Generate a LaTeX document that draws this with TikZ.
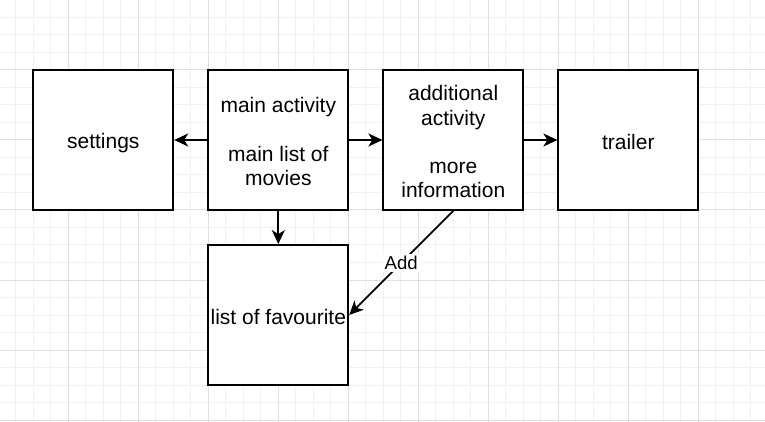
\documentclass[tikz,border=0pt]{standalone}
\usepackage{fontspec}
\setmainfont{Liberation Sans}
\usepackage{tikz}
\usetikzlibrary{arrows.meta, positioning}
\definecolor{gridminor}{HTML}{F1F1F1}
\definecolor{gridmajor}{HTML}{DFDFDF}
\newcommand{\topline}{\rule{0pt}{10.7pt}}
\newcommand{\botline}{\rule[-1.4pt]{0pt}{1.4pt}}

\begin{document}
\begin{tikzpicture}[
    x=0.5pt, y=-0.5pt,
    screen/.style={draw=black, line width=0.9pt, fill=white,
                   minimum width=70pt, minimum height=70pt, inner sep=0pt,
                   align=center, font=\fontsize{10.5}{12.1}\selectfont},
    flow/.style={-{Stealth[length=7pt, width=6.5pt, inset=2pt]}, line width=0.9pt},
]
    \useasboundingbox (0,0) rectangle (765,422);

    % Grid
    \foreach \g in {0,...,44} {
        \draw[gridminor, line width=0.5pt] ({-1.7+\g*17.5},0) -- ++(0,422);
    }
    \foreach \g in {0,...,24} {
        \draw[gridminor, line width=0.5pt] (0,{\g*17.5}) -- ++(765,0);
    }
    \foreach \g in {0,...,11} {
        \draw[gridmajor, line width=0.5pt] ({-1.7+\g*70},0) -- ++(0,422);
    }
    \foreach \g in {0,...,6} {
        \draw[gridmajor, line width=0.5pt] (0,{\g*70}) -- ++(765,0);
    }

    % Screens
    \node[screen] (settings) at (103.3, 140) {\topline settings\botline};
    \node[screen] (mainact) at (278.3, 140)
        {\topline main activity\\[12.1pt]main list of\\movies\botline};
    \node[screen] (addact) at (453.3, 140)
        {\topline additional\\activity\\[12.1pt]more\\information\botline};
    \node[screen] (trailer) at (628.3, 140) {\topline trailer\botline};
    \node[screen] (favlist) at (278.3, 315) {\topline list of favourite\botline};

    % Transitions
    \draw[flow] (mainact) -- (settings);
    \draw[flow] (mainact) -- (addact);
    \draw[flow] (addact) -- (trailer);
    \draw[flow] (mainact) -- (favlist);
    \draw[flow] (addact.south) -- node[fill=white, inner sep=1pt,
        font=\fontsize{9.3}{10}\selectfont] {Add} (favlist.east);
\end{tikzpicture}
\end{document}
